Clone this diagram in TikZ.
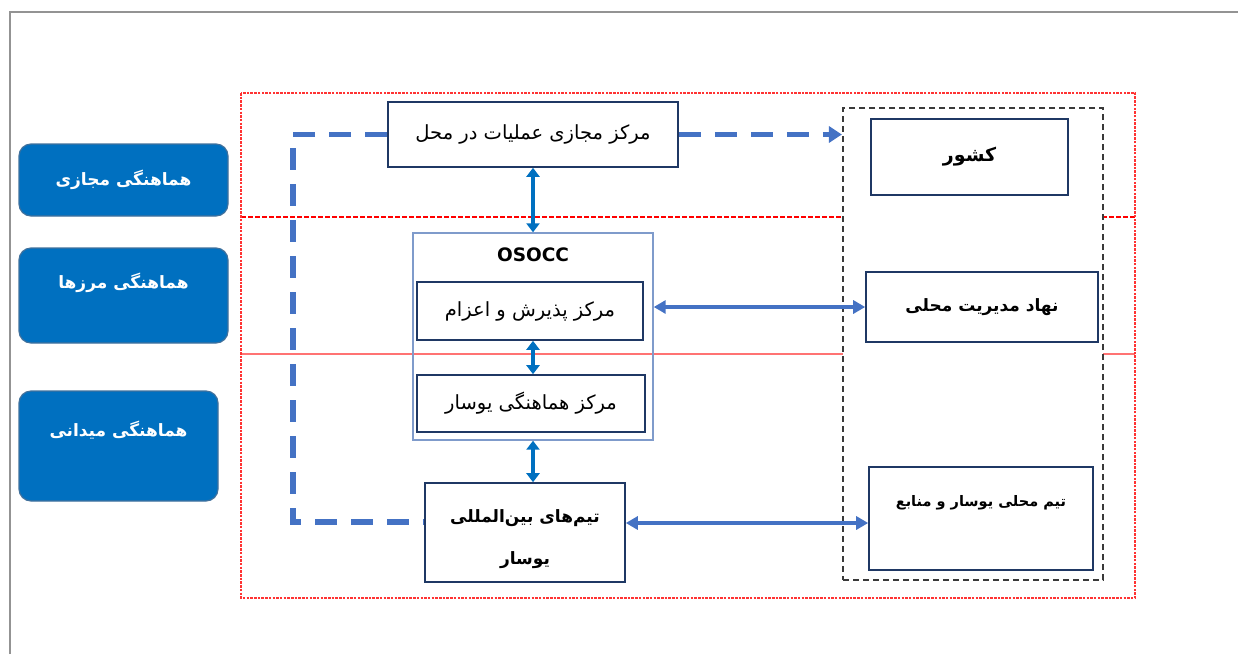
\documentclass[tikz,border=0pt]{standalone}
\usepackage{fontspec}
\usetikzlibrary{arrows.meta}
\newfontfamily\fa[Script=Arabic]{DejaVu Sans}
\newfontfamily\lat{DejaVu Sans}
\TeXXeTstate=1
\definecolor{navy}{HTML}{1F3864}
\definecolor{osoccb}{HTML}{7F9BCB}
\definecolor{bluefill}{HTML}{0070C0}
\definecolor{blueedge}{HTML}{41719C}
\definecolor{arrblue}{HTML}{0070C0}
\definecolor{dblue}{HTML}{4472C4}
\definecolor{redl}{HTML}{FF0000}
\definecolor{darkdash}{HTML}{3A3A3A}
\newcommand{\R}[1]{\beginR #1\endR}
\begin{document}
\begin{tikzpicture}[x=1pt,y=-1pt,
  box/.style={draw=navy, line width=1.6pt, fill=white, inner sep=0pt},
  bluebox/.style={draw=blueedge, fill=bluefill, line width=1.2pt, rounded corners=12pt, inner sep=0pt},
  wtxt/.style={text=white, font=\fa\bfseries\fontsize{17}{20}\selectfont},
  rtxt/.style={font=\fa\fontsize{19.5}{22}\selectfont},
  btxt/.style={font=\fa\bfseries\fontsize{17}{20}\selectfont},
  dbl/.style={line width=4.5pt, arrblue, {Triangle[width=13pt,length=9pt]}-{Triangle[width=13pt,length=9pt]}},
  hdbl/.style={line width=4pt, dblue, {Triangle[width=13pt,length=12pt]}-{Triangle[width=13pt,length=12pt]}},
  dashblue/.style={line width=5.5pt, dblue, dash pattern=on 22pt off 14pt},
  reddot/.style={redl!80, line width=1.5pt, dash pattern=on 2.5pt off 1.2pt},
]
\useasboundingbox (0,0) rectangle (1238,654);
% outer frame
\draw[gray!85, line width=1.3pt] (10,654) -- (10,12) -- (1238,12);
% red region lines
\draw[redl, line width=1.3pt, dash pattern=on 5pt off 2pt] (241,217) -- (1135,217);
\draw[redl!55, line width=2pt] (241,354) -- (1135,354);
\draw[reddot] (241,93) rectangle (1135,598);
% dashed country box
\node[draw=darkdash, fill=white, line width=2.2pt, dash pattern=on 6pt off 4pt, minimum width=260pt, minimum height=472pt, inner sep=0pt] (dbox) at (973,344) {};
% left blue boxes
\node[bluebox, minimum width=209pt, minimum height=72pt] (b1) at (123.5,180) {};
\node[wtxt] (b1t) at (b1.center) {\R{هماهنگی مجازی}};
\node[bluebox, minimum width=209pt, minimum height=95pt] (b2) at (123.5,295.5) {};
\node[wtxt] (b2t) at (123.5,283) {\R{هماهنگی مرزها}};
\node[bluebox, minimum width=199pt, minimum height=110pt] (b3) at (118.5,446) {};
\node[wtxt] (b3t) at (118.5,430) {\R{هماهنگی میدانی}};
% center boxes
\node[box, minimum width=290pt, minimum height=65pt, rtxt] (top) at (533,134.5) {\R{مرکز مجازی عملیات در محل}};
\node[draw=osoccb, line width=1.4pt, minimum width=240pt, minimum height=207pt, inner sep=0pt] (osocc) at (533,336.5) {};
\node[font=\lat\bfseries\fontsize{18.5}{20}\selectfont] (osoccT) at (533,255) {OSOCC};
\node[box, minimum width=226pt, minimum height=58pt, rtxt] (rec) at (530,311) {\R{مرکز پذیرش و اعزام}};
\node[box, minimum width=228pt, minimum height=57pt, rtxt] (coord) at (531,403.5) {\R{مرکز هماهنگی یوسار}};
\node[box, minimum width=200pt, minimum height=99pt] (team) at (525,532.5) {};
\node[btxt] (teamT1) at (525,518) {\R{تیم‌های بین‌المللی}};
\node[btxt] (teamT2) at (525,560) {\R{یوسار}};
% right boxes
\node[box, minimum width=197pt, minimum height=76pt, font=\fa\bfseries\fontsize{19}{22}\selectfont] (country) at (969.5,157) {\R{کشور}};
\node[box, minimum width=232pt, minimum height=70pt, btxt] (nahad) at (982,307) {\R{نهاد مدیریت محلی}};
\node[box, minimum width=224pt, minimum height=103pt] (local) at (981,518.5) {};
\node[font=\fa\bfseries\fontsize{14.5}{17}\selectfont] (localT) at (981,503) {\R{تیم محلی یوسار و منابع}};
% connectors
\coordinate (c2) at (293,522);
\draw[dashblue] (top.west) -- (top.west -| c2) -- (c2) -- (c2 -| team.west);
\draw[dashblue, -{Triangle[width=16pt,length=13pt]}] (top.east) -- (top.east -| dbox.west);
\draw[dbl] (top.south) -- (osocc.north);
\draw[dbl] (rec.south -| osocc.north) -- (coord.north -| osocc.north);
\draw[dbl] (osocc.south) -- (osocc.south |- team.north);
\draw[hdbl] (nahad.west -| osocc.east) -- (nahad.west);
\coordinate (tA) at ([yshift=9.5pt]team.east);
\draw[hdbl] (tA) -- (tA -| local.west);
\end{tikzpicture}
\end{document}
